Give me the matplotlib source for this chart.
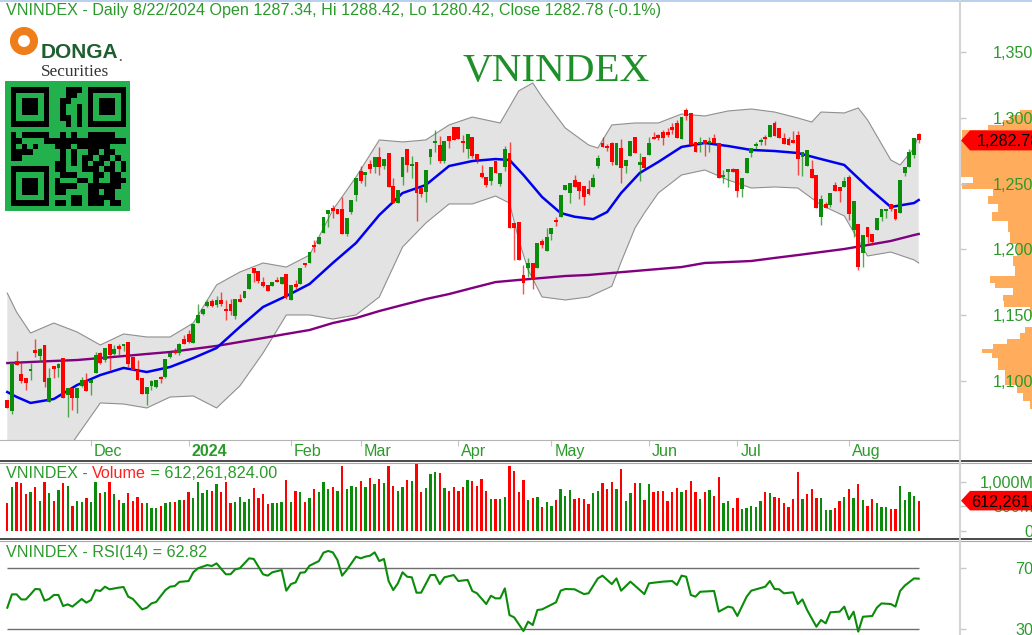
import matplotlib
matplotlib.use('Agg')
import matplotlib.pyplot as plt
from matplotlib.lines import Line2D
from matplotlib.patches import Polygon, Circle, Rectangle
import numpy as np

W, H = 1032, 635

# Dados #
opens = [1085.5,1077.4,1114.9,1105.3,1102.7,1107.8,1123.5,1118.9,1127.3,1084.3,
    1111.8,1109.6,1117.2,1089.8,1094.9,1086.8,1096.4,1101.2,1098.2,1106.3,
    1121.5,1115.9,1128,1120.5,1127,1126.8,1129.8,1118.4,1108.3,1102.7,
    1090.1,1096.4,1095.6,1102.7,1103.2,1118.4,1123,1121,1131.6,1135.6,
    1128.6,1144.2,1150.8,1156.9,1161,1157.7,1161.5,1154.4,1158.4,1149.3,
    1162.5,1163,1170.3,1185.5,1183.7,1175.6,1172.6,1172.3,1176.6,1174.1,
    1181.2,1161.5,1173.6,1173.4,1189.3,1189.5,1203.2,1204.1,1212.2,1226.9,
    1231.7,1230.7,1230.7,1211.5,1228.7,1241.3,1259.6,1256.5,1264.9,1262.8,
    1269.9,1263.4,1273,1248.2,1235,1255.2,1276.2,1263.3,1266.6,1246.3,
    1243.8,1269.9,1281,1279.2,1267.3,1286.3,1293.2,1293.2,1282.5,1276,
    1285.6,1272.4,1258.2,1254.7,1252.2,1267.1,1249.6,1262.3,1273.4,1219.8,
    1221,1180.5,1185.6,1189.9,1185.6,1206.6,1199,1211.7,1221.8,1224.8,
    1245.1,1242.5,1252.7,1251.4,1248.1,1245.6,1247.6,1263.3,1281,1278.5,
    1281,1264,1276.7,1263.3,1270.9,1285,1264,1270.4,1271.6,1285.6,
    1286.8,1289.4,1289.4,1293.2,1295.7,1283.5,1305.8,1303.8,1281.8,1280,
    1283,1281,1284.8,1281,1255.2,1259,1260.8,1260.8,1245.6,1258.2,
    1272.9,1278.5,1281.8,1285.6,1285.6,1296.2,1291.9,1284.3,1283.5,1283,
    1286.8,1270.4,1263.3,1260.8,1256.5,1224.8,1234.4,1233.7,1248.9,1247.1,
    1247.1,1254.7,1214.7,1219,1197,1217.2,1211.7,1214.7,1224.8,1229.4,
    1234.4,1230.4,1227.4,1257.7,1262.8,1271.6,1287.34]
highs = [1085.5,1113.4,1123,1114.6,1102.7,1114.1,1131.6,1125,1127.3,1109.6,
    1111.8,1113.4,1117.2,1094.9,1094.9,1094.9,1103.2,1105.8,1101.2,1122.2,
    1122.2,1125,1128,1127.3,1128,1128,1129.8,1118.4,1115.9,1102.7,
    1095.6,1100.7,1101.2,1103.8,1116.9,1122.2,1124.8,1128.6,1134.9,1138.7,
    1143.2,1158.4,1154.4,1161.5,1162,1164.5,1167.8,1161.5,1162.2,1162.5,
    1166,1168.5,1181.2,1185.5,1183.7,1179.2,1172.6,1175.4,1178.7,1178.7,
    1181.2,1172.6,1177.1,1185.8,1189.8,1198.3,1207.2,1209.7,1224.9,1230,
    1233.7,1230.7,1240,1224.1,1237.5,1254.5,1263.4,1258.5,1267.9,1270.4,
    1277.5,1268.7,1273,1254,1245.1,1270.4,1276.2,1270.9,1266.6,1246.3,
    1260.3,1276.2,1290.6,1286.1,1282.3,1286.3,1293.2,1293.2,1286.8,1287.3,
    1285.6,1272.4,1264,1254.7,1262.8,1267.1,1258.2,1278.7,1281.3,1219.8,
    1221,1188.1,1193.2,1189.9,1205.1,1207.6,1216,1216,1224.3,1241.3,
    1248.9,1250.1,1256.5,1251.4,1248.1,1252.7,1257.2,1271.7,1285,1280,
    1281.8,1281,1283.5,1267.9,1282.3,1285,1272.9,1270.4,1285.6,1289.4,
    1288,1291,1292,1296,1298,1300.2,1307,1303.8,1281.8,1285.6,
    1283,1285.6,1287.6,1281,1260.3,1260.8,1261.5,1260.8,1253.9,1269.6,
    1276.7,1281.5,1284.5,1286.5,1294.4,1297.7,1292.5,1288.5,1285,1290.1,
    1290.1,1274.2,1275.4,1267.8,1256.5,1241.3,1236,1242.5,1251,1247.1,
    1255.2,1256.5,1236.7,1219,1210.9,1217.2,1211.7,1223.6,1230.4,1230.4,
    1234.4,1230.4,1252.7,1262.3,1276,1284.3,1288.42]
lows = [1079.2,1074.9,1112.1,1098.2,1093.1,1100.7,1118.4,1114.6,1095.6,1084.3,
    1102.7,1103.2,1086.8,1072.4,1077.9,1075.9,1095.6,1092.6,1089.3,1106.3,
    1112.9,1114.6,1108.8,1119.7,1119.7,1123,1110.8,1108.3,1100.7,1090.1,
    1081.7,1093.1,1094.4,1098.2,1102.7,1117.2,1120.5,1119.7,1128,1128.6,
    1128.6,1144.2,1150,1155.9,1155.9,1155.9,1156.9,1146.3,1150,1147.5,
    1160.4,1163,1170.3,1175.4,1174.6,1171.6,1168.5,1172.3,1174.9,1174.1,
    1162.7,1161.5,1170.3,1173.4,1186.8,1189.5,1198.3,1204.1,1212.2,1216.8,
    1223.6,1226.9,1211.5,1210.2,1226.9,1237,1250.2,1248.2,1257.8,1257.8,
    1256.5,1260.8,1247.7,1235,1235,1248.9,1259,1253.9,1221.8,1240,
    1236.2,1264.8,1274.2,1265.3,1265.3,1276.7,1283,1283.5,1274.2,1269.1,
    1269.1,1265.3,1253.9,1247.1,1248.9,1257.7,1248.1,1259.8,1216,1191.9,
    1191.9,1166.1,1179.3,1169.7,1185.6,1200.8,1199,1207.1,1217.8,1224.8,
    1245.1,1235.5,1247.6,1238,1233.7,1241.3,1247.6,1261.5,1277.5,1275,
    1264,1264,1250.6,1257.7,1270.9,1272.9,1252.2,1261.5,1271.6,1283.8,
    1283,1279.2,1285,1288,1284.3,1283.5,1298,1279.2,1274.2,1274.2,
    1270.9,1274.2,1281,1253.9,1250.1,1247.6,1259,1240,1240,1258.2,
    1270,1276,1279,1279,1285.6,1286.1,1284.3,1280,1279.2,1281,
    1256.5,1255.7,1263.3,1253.9,1231.1,1218.5,1231.1,1232,1244.3,1236.2,
    1247.1,1222.3,1209.6,1184.3,1186.9,1204.6,1203.3,1214.7,1221.8,1223.6,
    1229,1222,1227.4,1256,1262.8,1269.1,1280.42]
closes = [1079.2,1113.4,1112.1,1100.2,1098.7,1109.3,1121.5,1124.5,1099.4,1102.7,
    1109.3,1112.9,1086.8,1094.9,1086.8,1094.9,1101.2,1092.6,1101.2,1119.7,
    1113.9,1125,1120,1124,1124,1127.8,1112.9,1108.3,1101.2,1090.1,
    1095.6,1100.2,1101.2,1101.7,1116.9,1121.5,1121,1128,1128,1129.8,
    1143.2,1150,1154.4,1160.2,1156.9,1161.5,1158.9,1153.4,1152.9,1162.5,
    1160.4,1168.5,1181.2,1182.2,1175.9,1172.1,1168.5,1175.4,1174.9,1178.7,
    1163.5,1172.6,1171.1,1185.8,1187.8,1198.3,1202.2,1209.7,1224.9,1230,
    1229.4,1226.9,1211.5,1224.1,1237.5,1254.5,1252.2,1258.5,1260.8,1270.4,
    1262.3,1268.7,1247.7,1235,1245.1,1270.4,1264,1263.8,1242.5,1242,
    1260.3,1276.2,1282.3,1267.3,1282.3,1282.5,1283,1283.5,1281,1287.3,
    1270.9,1267.9,1254.7,1248.9,1262.8,1258.2,1258.2,1276,1216,1216,
    1191.9,1174.2,1189.4,1176.7,1205.1,1203.3,1209.1,1216,1220.8,1241.3,
    1248.9,1250.1,1247.6,1244.6,1239.5,1242,1253.9,1269.1,1277.5,1277,
    1266.6,1281,1261.5,1267.9,1282.3,1272.9,1266.6,1261.5,1280.5,1283.8,
    1284.3,1284.3,1286.8,1290.6,1284.3,1300.2,1301.3,1279.2,1274.2,1281.8,
    1280,1281.8,1281,1253.9,1256.5,1260.8,1259,1244.6,1253.9,1269.6,
    1276.7,1280,1283,1283.5,1294.4,1286.1,1284.3,1280,1279.2,1281,
    1268.4,1274.2,1275.4,1253.9,1231.1,1238,1231.1,1242.5,1244.3,1244.6,
    1252.2,1226.8,1236.7,1186.9,1210.9,1209.6,1205.8,1223.6,1230.4,1230.4,
    1230.4,1223,1252.7,1262.3,1274.2,1284.3,1282.78]

# medias e bandas #
ma20_bars = [0,2,5,10,15,20,25,30,35,40,45,50,55,60,65,70,75,80,85,90,95,100,105,108,111,115,
    119,122,126,129,132,136,140,145,150,155,160,165,170,175,180,185,190,195,196]
ma20 = [1091.7,1088,1083.4,1086.4,1097,1104.6,1110,1106.9,1110.7,1117.5,1125.1,1141.1,1156.3,
    1164.6,1173.7,1189.7,1204.9,1226.1,1242.8,1248.9,1263.3,1267.1,1268.6,1267.9,1256.5,1239.8,
    1227.6,1224.8,1223,1228.4,1242.8,1258,1266.4,1277.8,1280.8,1278.5,1275.5,1274.7,1273.2,1268.6,
    1264.1,1247.4,1232.2,1235.2,1237.5]
ma200_bars = [0,5,10,15,20,25,30,35,40,45,50,55,60,65,70,75,80,85,90,95,100,105,110,115,
    120,125,130,135,140,145,150,155,160,165,170,175,180,185,190,195,196]
ma200 = [1113.7,1114.5,1115.3,1116,1117.5,1119,1120.6,1122.1,1124.4,1126.7,1129.7,1132.7,
    1135.8,1138.8,1144.1,1147.9,1153.2,1157.8,1162.3,1166.1,1170.7,1175.2,1176.8,1178.3,
    1179.8,1180.6,1182.1,1183.6,1185.1,1186.6,1189.7,1190.4,1191.2,1193.5,1195.7,1198,
    1200.3,1203.3,1206.4,1210.9,1211.7]
upper_bars = [0,2,5,10,15,20,25,30,35,40,45,50,55,60,65,70,75,80,85,90,95,100,106,110,113,115,
    120,125,127,130,135,140,145,150,155,160,165,170,173,175,180,183,185,190,192,195,196]
upper = [1166.8,1152.4,1136.5,1144.1,1137.3,1127.4,1135.8,1133.5,1133.5,1144.1,1173,1182.8,
    1189.7,1186.6,1195.7,1229.9,1255,1283.1,1281.6,1283.1,1294.5,1300.5,1296,1320.4,1326.4,1315.7,
    1292.2,1279.3,1277,1294.5,1296,1296,1302.8,1301.3,1305.1,1306.6,1304.3,1299.8,1296.7,1304.3,1303.6,
    1307.4,1298.3,1267.9,1264.1,1277,1286.9]
lower_bars = [0,5,10,15,20,25,30,35,40,45,50,55,60,65,70,75,80,85,90,95,100,105,108,110,112,115,
    120,125,130,132,135,137,140,145,150,155,160,165,170,175,180,185,190,195,196]
lower = [1032.5,1032.5,1032.5,1058.3,1083.4,1082.6,1079.6,1087.9,1088.7,1079.6,1096.3,1121.3,
    1150.2,1150.2,1147.1,1150.2,1163.9,1201.8,1220,1234.5,1234.5,1240.5,1235.2,1207.1,1184.4,1163.9,
    1161.6,1163.9,1172,1190.4,1216.3,1227.6,1242.8,1256.5,1260.3,1252.7,1246.6,1247.4,1246.6,1233.7,1225.4,
    1195,1198,1192,1189.7]

volume = [555,897,986,966,740,781,897,603,986,760,
    603,829,966,918,507,603,575,671,575,986,
    760,781,986,740,623,555,760,603,692,555,
    555,466,466,507,555,575,575,623,623,781,
    671,986,760,829,808,945,781,986,555,575,
    692,575,644,877,671,740,534,555,555,575,
    1034,575,808,781,575,671,849,781,986,849,
    897,808,1329,
    849,918,890,1014,890,1069,945,1055,966,1329,
    918,808,890,1027,1014,1384,781,863,1151,1192,
    1171,863,808,890,808,890,1027,1014,918,1055,
    808,644,644,644,692,1329,1219,781,1027,623,
    671,692,486,575,507,623,849,712,829,644,
    671,644,534,760,808,966,849,986,849,1260,
    603,760,966,966,623,945,781,808,808,603,
    781,863,781,829,
    1014,781,644,781,829,712,1103,555,603,466,
    671,438,466,507,486,603,781,760,692,671,
    555,486,644,1192,644,740,849,671,671,418,
    418,466,603,692,849,671,945,623,507,644,
    555,486,486,438,438,918,623,781,712,612]
volume_cor = ('rgrrrgrgrgrgrgrggrggrgrgrgrrrrgggrggrgrrggggrgrrrggggrrrrgggrgrgrgrgggrgr'
    'gggrgrgrgrrggrgrrgggrgrrrrgrrrrgrggrrrrgrgrggrgggrrrrggrrrgrggrgrgrrrrrrgr'
    'rrgrgrrggrrgggggrgrrrrrrgrrrgggrrgrgrgrrgggrrggggr')

rsi_bars = [0,1,2,3,4,5,6,7,8,9,10,11,12,13,14,16,17,18,19,20,21,22,24,25,26,27,29,30,31,32,
    34,35,36,37,39,40,41,43,44,45,47,48,49,50,52,53,55,56,57,59,60,61,62,63,64,65,67,68,69,70,71,72,
    73,75,76,77,78,79,80,81,82,83,84,85,86,87,88,89,91,92,93,94,96,97,99,100,101,103,104,105,106,
    107,108,109,111,112,113,114,115,118,119,120,122,124,125,127,128,130,131,132,134,137,138,139,
    141,143,144,145,146,
    147,148,149,152,153,155,156,157,159,160,163,164,165,166,167,169,170,171,172,174,175,176,177,
    179,180,181,182,183,184,186,187,188,190,191,192,193,195,196]
rsi = [43.9,52.6,52.6,49.3,49.3,52.6,56.1,55.9,48.5,49.6,52.2,52.2,45,46.1,44.6,49.6,47.2,48.9,55.4,54.8,
    57.6,55.9,57,57.4,51.1,49.6,42.8,43.9,46.7,47.6,55.4,57.6,58,60.7,61.3,67,69.6,71.7,71.1,72.8,
    65.7,65.7,68.9,69.6,76.1,75.7,65.7,64.8,67,68.5,55,59.3,60.4,66.7,67,71.3,74.3,79.8,80.9,80,75,64.8,
    68.5,77.2,76.1,77.2,77.8,80,74.3,75.7,61.3,55.4,59.8,67,64.1,63.7,53.7,53.7,65.2,65.2,59.3,63.7,
    65.2,61.3,62,54.8,53.3,46.3,51.7,50,50,56.5,39.1,37.6,28.7,34.8,32.6,42.4,42.8,47.4,55,56.1,55.9,
    52.8,53.3,63,64.8,59.3,63,55,60.9,52.8,59.8,60.2,60.9,61.3,58.7,64.8,64.1,
    52.2,51.1,54.3,54.8,41.3,44.6,43.9,38.5,51.1,55,57.6,61.3,56.1,55.9,53.3,53.9,46.3,49.3,42.4,31.5,
    35.9,33.7,40.9,41.3,44.6,36.3,41.3,28.3,38,38.5,43.9,46.7,46.3,44.6,54.8,58.3,63,62.82]

# perfil de volume por preco #
perfil_preco = [1307.4,1303.6,1299.8,1296,1292.2,1289.1,1275.5,1256.5,1252.7,1248.1,1243.6,1237.5,
    1231.4,1225.4,1217.8,1208.7,1199.5,1191.2,1183.6,1176,1173,1168.4,1163.1,1158.5,1154,1142.6,
    1138.8,1133.5,1129.7,1125.9,1122.9,1119.8,1116,1110.7,1106.9,1100.8,1093.3,1087.9,1081.8,1076.5]
perfil_vol = [0,12,22,29,44,70,71,72,59,70,39,44,34,40,24,22,15,19,17,42,37,19,29,28,2,0,
    7,12,25,39,50,40,34,34,27,27,15,9,2,0]

price_ticks = [1100,1150,1200,1250,1300,1350]
vol_ticks = [0,500,1000]
vol_tick_labels = ['0','500M','1,000M']
rsi_ticks = [30,70]
mes_bars = [18,39,61,76,97,117,138,157,181]
mes_labels = ['Dec','2024','Feb','Mar','Apr','May','Jun','Jul','Aug']

qr = ['XXXXXXX...XXX.XXXXXXX',
      'X.....X...XX..X.....X',
      'X.XXX.X..XX...X.XXX.X',
      'X.XXX.X..X..X.X.XXX.X',
      'X.XXX.X..X..X.X.XXX.X',
      'X.....X..XX.X.X.....X',
      'XXXXXXX...X.X.XXXXXXX',
      '.....................',
      'X.XXXXX..X.X..XXXXX..',
      'XX....XXXXXXXXXXXXXXX',
      'X.X.X...XXX.XXXXXX...',
      'XXXX.....X.X..XX.XX..',
      'XX.......X.X.XX.XX.X.',
      '........XX.X.X.XX.X.X',
      'XXXXXXX.XX...XXX.XX.X',
      'X.....X..XXX...XX.XX.',
      'X.XXX.X.X...XX.X..XXX',
      'X.XXX.X.XXXX..XXXXXX.',
      'X.XXX.X.XX....XX.XX..',
      'X.....X....XX.XXXXX..',
      'XXXXXXX.XX.XX.XXX.XX.']

# Config plot #
VERDE = '#0a8c0a'
VERMELHO = '#ff0000'
TXT = '#2b9a2b'
FS = 11.6
plt.rcParams['font.family'] = 'Liberation Sans'

BAR0 = 7.3      # pixel da primeira barra
BARW = 4.65     # pixels por barra
AXIS_X = 960


def pane(top, bottom, left=0, right=AXIS_X):
    ax = fig.add_axes([left / W, 1 - bottom / H, (right - left) / W, (bottom - top) / H])
    for s in ax.spines.values():
        s.set_visible(False)
    return ax


def preco_lim(y_px):
    return 1300 - (y_px - 117.7) * 0.7593


fig = plt.figure(figsize=(W / 100, H / 100), dpi=100, facecolor='white')
xlim = ((0 - BAR0) / BARW, (AXIS_X - BAR0) / BARW)
x = np.arange(len(closes))

# Plot candles e bandas #
ax = pane(0, 440)
ax.set_xlim(xlim)
ax.set_ylim(preco_lim(440), preco_lim(0))
ax.set_yticks([])
ax.set_xticks(mes_bars)
ax.set_xticklabels([])
ax.tick_params(axis='x', length=4, width=0.8, color='#c4c4c4')
ax.spines['bottom'].set_visible(True)
ax.spines['bottom'].set_color('#b4b4b4')

ax.fill(np.r_[upper_bars, lower_bars[::-1]], np.r_[upper, lower[::-1]], color='#e3e3e3', lw=0, zorder=1)
ax.plot(upper_bars, upper, color='#8f8f8f', lw=0.8, zorder=2)
ax.plot(lower_bars, lower, color='#8f8f8f', lw=0.8, zorder=2)
ax.plot(ma200_bars, ma200, color='#800080', lw=1.7, zorder=3)
ax.plot(ma20_bars, ma20, color='#0000f0', lw=1.8, zorder=4)

o, h, l, c = map(np.array, (opens, highs, lows, closes))
cores = np.where(c >= o, VERDE, VERMELHO)
ax.vlines(x, l, h, colors=cores, lw=1.0, alpha=0.7, zorder=5)
ax.bar(x, np.maximum(np.abs(c - o), 1.5), bottom=np.minimum(o, c), width=0.82, color=cores, lw=0, zorder=6)

for pos, lab in zip(mes_bars, mes_labels):
    ax.annotate(lab, xy=(pos, 0), xycoords=('data', 'axes fraction'), xytext=(3, -4),
                textcoords='offset pixels', ha='left', va='top', fontsize=FS,
                color=TXT, fontweight='bold' if lab == '2024' else 'normal')

fig.text(6 / W, 1 - 11 / H, 'VNINDEX - Daily 8/22/2024 Open 1287.34, Hi 1288.42, Lo 1280.42, Close 1282.78 (-0.1%)',
         color=TXT, fontsize=FS, va='center')
fig.text(556 / W, 1 - 71 / H, 'VNINDEX', color='#1f8f2a', family='Liberation Serif', fontsize=29.6,
         ha='center', va='center')

# Volume #
ax_v = pane(462, 539)
ax_v.set_xlim(xlim)
ax_v.set_ylim(-174, 1404)
ax_v.set_xticks([])
ax_v.set_yticks([])
ax_v.bar(x, volume, width=0.5, lw=0, color=[VERDE if v == 'g' else VERMELHO for v in volume_cor])
t1 = ax_v.text(6 / AXIS_X, 0.85, 'VNINDEX - ', transform=ax_v.transAxes, color=TXT, fontsize=FS, va='center')
t2 = ax_v.annotate('Volume', xy=(1, 0.5), xycoords=t1, va='center', color='#ff2020', fontsize=FS)
ax_v.annotate(' = 612,261,824.00', xy=(1, 0.5), xycoords=t2, va='center', color=TXT, fontsize=FS)

# RSI #
ax_r = pane(541, 635)
ax_r.set_xlim(xlim)
ax_r.set_ylim(26.1, 87.4)
ax_r.set_xticks([])
ax_r.set_yticks([])
ax_r.hlines(rsi_ticks, x[0], x[-1], color='#6e6e6e', lw=1)
ax_r.plot(rsi_bars, rsi, color=VERDE, lw=1.5)
ax_r.text(6 / AXIS_X, 0.88, 'VNINDEX - RSI(14) = 62.82', transform=ax_r.transAxes, color=TXT, fontsize=FS, va='center')

# Escalas a direita #
ax_p = pane(0, 440, AXIS_X, W)
ax_p.set_xlim(72, 0)
ax_p.set_ylim(preco_lim(440), preco_lim(0))
ax_p.fill_betweenx(perfil_preco, perfil_vol, 0, step='mid', color='#ffad5c', lw=0)
ax_p.patch.set_alpha(0)

ax_vr = pane(462, 539, AXIS_X, W)
ax_vr.set_xlim(72, 0)
ax_vr.set_ylim(-174, 1404)
ax_rr = pane(541, 635, AXIS_X, W)
ax_rr.set_xlim(72, 0)
ax_rr.set_ylim(26.1, 87.4)

for a, ticks, labs in ((ax_p, price_ticks, [f'{t:,}' for t in price_ticks]),
                       (ax_vr, vol_ticks, vol_tick_labels),
                       (ax_rr, rsi_ticks, [str(t) for t in rsi_ticks])):
    a.set_xticks([])
    a.set_yticks(ticks)
    a.set_yticklabels([])
    a.tick_params(axis='y', direction='in', length=4.3, width=1, color='#c8c8c8', left=True)
    for t, lab in zip(ticks, labs):
        a.text(-1.5, t, lab, color=TXT, fontsize=FS, ha='right', va='center_baseline', clip_on=True)

# Marcadores do ultimo valor #
ult_c = closes[-1]
ax_p.add_patch(Polygon([(71, ult_c), (62, ult_c + 7.6), (-2, ult_c + 7.6), (-2, ult_c - 7.6), (62, ult_c - 7.6)],
                       color=VERMELHO, lw=0, zorder=5))
ax_p.text(55, ult_c, '1,282.78', color='black', fontsize=FS, va='center_baseline', ha='left', zorder=6, clip_on=True)
ult_v = volume[-1]
ax_vr.add_patch(Polygon([(71, ult_v), (62, ult_v + 200), (-2, ult_v + 200), (-2, ult_v - 200), (62, ult_v - 200)],
                        color=VERMELHO, lw=0, zorder=5))
ax_vr.text(61, ult_v, '612,261,824', color='black', fontsize=FS, va='center_baseline', ha='left', zorder=6, clip_on=True)

# Moldura: linhas separadoras, eixo vertical #
ov = fig.add_axes([0, 0, 1, 1], zorder=10)
ov.axis('off')
ov.patch.set_alpha(0)
ov.add_line(Line2D([0, W], [0.8, 0.8], color='#b8d0ec', lw=1.4))
for yy, cor, lw in ((461, '#4a4a4a', 1.4), (463, '#a8a8a8', 0.8), (539, '#4a4a4a', 1.4), (541, '#a8a8a8', 0.8)):
    ov.add_line(Line2D([0, W], [yy, yy], color=cor, lw=lw))
ov.add_line(Line2D([AXIS_X, AXIS_X], [0, H], color='#d4d4d4', lw=1.5))

# Logo e QR #
ov.add_patch(Circle((24, 41), 10, fill=False, ec='#ef7d1a', lw=5.8))
ov.text(41, 52, 'DONGA', color='#1e5e2f', fontsize=15, fontweight='bold', va='center')
ov.text(118, 58, '.', color='#666666', fontsize=9, fontweight='bold', va='center')
ov.text(41, 72, 'Securities', color='#333333', family='Liberation Serif', fontsize=12.4, va='center')
ov.add_patch(Rectangle((5, 81), 125, 130, color='#22b14c', lw=0))
matriz = np.array([[ch == 'X' for ch in linha] for linha in qr], dtype=float)
ov.imshow(np.ma.masked_equal(matriz, 0), cmap='gray_r', vmin=0, vmax=1, extent=(10.7, 125, 206.5, 88.3),
          interpolation='nearest', aspect='auto', zorder=3)
ov.set_xlim(0, W)
ov.set_ylim(H, 0)

fig.savefig('out.png', dpi=100)
